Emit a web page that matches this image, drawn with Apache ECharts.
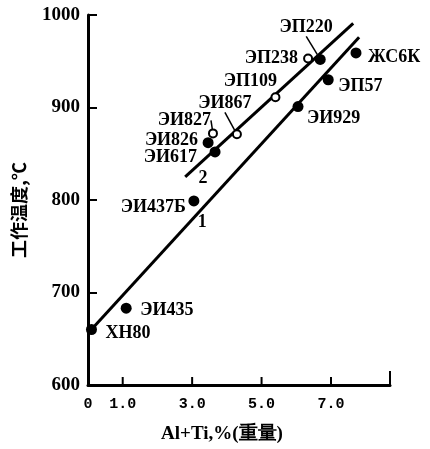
<!DOCTYPE html>
<html><head><meta charset="utf-8">
<script src="https://cdn.jsdelivr.net/npm/echarts@6/dist/echarts.min.js"></script>
<style>html,body{margin:0;padding:0;background:#fff}#c{width:430px;height:449px}</style>
</head><body><div id="c"></div>
<script>
// ---- data ----
const filledNames = ['XH80','ЭИ435','ЭИ437Б','ЭИ826','ЭИ617','ЭИ929','ЭП220','ЭП57','ЖС6К'];
const filledX = [0.1, 1.1, 3.05, 3.46, 3.66, 6.05, 6.69, 6.92, 7.72];
const filledY = [660, 683, 799, 862, 852, 901, 952, 930, 959];
const openNames = ['ЭИ827','ЭИ867','ЭП109','ЭП238'];
const openX = [3.6, 4.29, 5.4, 6.34];
const openY = [872, 871, 911, 953];
const line1X = [0, 7.81];
const line1Y = [656, 976];
const line2X = [2.8, 7.64];
const line2Y = [825, 991];
const lineTagNames = ['1','2'];
const lineTagX = [3.29, 3.31];
const lineTagY = [776, 823];
const xTickLabels = [0, 1, 3, 5, 7];
const xTickMarks = [1, 3, 5, 7, 8.7];

// ---- label styling (positions relative to marker centre, px) ----
const labelStyle = {
  'XH80':   {align:'left',  pos:[14,4]},
  'ЭИ435':  {align:'left',  pos:[14,2]},
  'ЭИ437Б': {align:'right', pos:[-8,6]},
  'ЭИ826':  {align:'right', pos:[-10,-2]},
  'ЭИ617':  {align:'right', pos:[-18,5]},
  'ЭИ929':  {align:'left',  pos:[9,12]},
  'ЭП220':  {align:'center',pos:[-14,-32], leader:true},
  'ЭП57':   {align:'left',  pos:[10,7]},
  'ЖС6К':   {align:'left',  pos:[12,4]},
  'ЭИ827':  {align:'right', pos:[-2,-13], leader:true},
  'ЭИ867':  {align:'center',pos:[-12,-31], leader:true},
  'ЭП109':  {align:'center',pos:[-25,-16]},
  'ЭП238':  {align:'right', pos:[-10,0]}
};
const FONT = '"Liberation Serif", "DejaVu Serif", serif';
function pts(names, xs, ys) {
  return names.map((n, i) => ({
    name: n, value: [xs[i], ys[i]],
    label: {show: true, position: 'inside', formatter: n},
    labelLine: {show: !!labelStyle[n].leader, lineStyle: {color: '#000', width: 1.5}}
  }));
}
function layoutFn(names) {
  return function (p) {
    const s = labelStyle[names[p.dataIndex]];
    const cx = p.rect.x + p.rect.width / 2, cy = p.rect.y + p.rect.height / 2;
    return {x: cx + s.pos[0], y: cy + s.pos[1], align: s.align, verticalAlign: 'middle'};
  };
}
const chart = echarts.init(document.getElementById('c'), null, {renderer: 'canvas'});
const lblText = {fontFamily: FONT, fontSize: 18, fontWeight: 'bold', color: '#000'};
chart.setOption({
  animation: false,
  grid: {left: 88, right: 40, top: 15, bottom: 62},
  xAxis: {
    type: 'value', min: 0, max: 8.7, interval: 1,
    name: 'Al+Ti,%(重量)', nameLocation: 'middle', nameGap: 40,
    nameTextStyle: {fontFamily: FONT, fontSize: 19, fontWeight: 'bold', color: '#000', padding: [0, 34, 0, 0]},
    axisLine: {show: true, lineStyle: {color: '#000', width: 3}},
    axisTick: {show: false},
    splitLine: {show: false},
    axisLabel: {
      margin: 12, fontFamily: '"Liberation Mono", monospace', fontWeight: 'bold', fontSize: 15, color: '#000',
      showMaxLabel: false,
      formatter: v => xTickLabels.includes(v) ? (v === 0 ? '0' : v.toFixed(1)) : ''
    }
  },
  yAxis: {
    type: 'value', min: 600, max: 1000, interval: 100,
    name: '工作温度,℃', nameLocation: 'middle', nameRotate: 90, nameGap: 60,
    nameTextStyle: {fontFamily: '"Noto Sans CJK SC", sans-serif', fontSize: 18, fontWeight: 'bold', color: '#000', padding: [0, 0, 0, -20]},
    axisLine: {show: true, lineStyle: {color: '#000', width: 3}},
    axisTick: {show: true, inside: true, length: 9, lineStyle: {color: '#000', width: 2}},
    splitLine: {show: false},
    axisLabel: {margin: 8, fontFamily: FONT, fontWeight: 'bold', fontSize: 19, color: '#000',
      formatter: v => String(v)}
  },
  series: [
    {type: 'line', data: line1X.map((x, i) => [x, line1Y[i]]), symbol: 'none',
     lineStyle: {color: '#000', width: 3}, z: 2},
    {type: 'line', data: line2X.map((x, i) => [x, line2Y[i]]), symbol: 'none',
     lineStyle: {color: '#000', width: 3}, z: 2},
    {type: 'scatter', data: pts(filledNames, filledX, filledY), symbol: 'circle', symbolSize: 11,
     itemStyle: {color: '#000', opacity: 1}, z: 3, label: lblText, labelLayout: layoutFn(filledNames)},
    {type: 'scatter', data: pts(openNames, openX, openY), symbol: 'circle', symbolSize: 8,
     itemStyle: {color: '#fff', borderColor: '#000', borderWidth: 2, opacity: 1}, z: 3,
     label: lblText, labelLayout: layoutFn(openNames)},
    {type: 'scatter', data: lineTagNames.map((n, i) => ({name: n, value: [lineTagX[i], lineTagY[i]]})),
     symbolSize: 0, z: 3, itemStyle: {opacity: 1},
     label: {show: true, position: 'inside', formatter: '{b}', fontFamily: FONT, fontWeight: 'bold', fontSize: 18, color: '#000'}},
    {type: 'custom', data: xTickMarks.map(v => [v]), z: 4,
     renderItem: (params, api) => {
       const v = api.value(0);
       const p = api.coord([v, 600]);
       const len = v === xTickMarks[xTickMarks.length - 1] ? 14 : 8;
       return {type: 'line', shape: {x1: p[0], y1: p[1], x2: p[0], y2: p[1] - len},
               style: {stroke: '#000', lineWidth: 2}};
     }}
  ]
});
</script></body></html>
